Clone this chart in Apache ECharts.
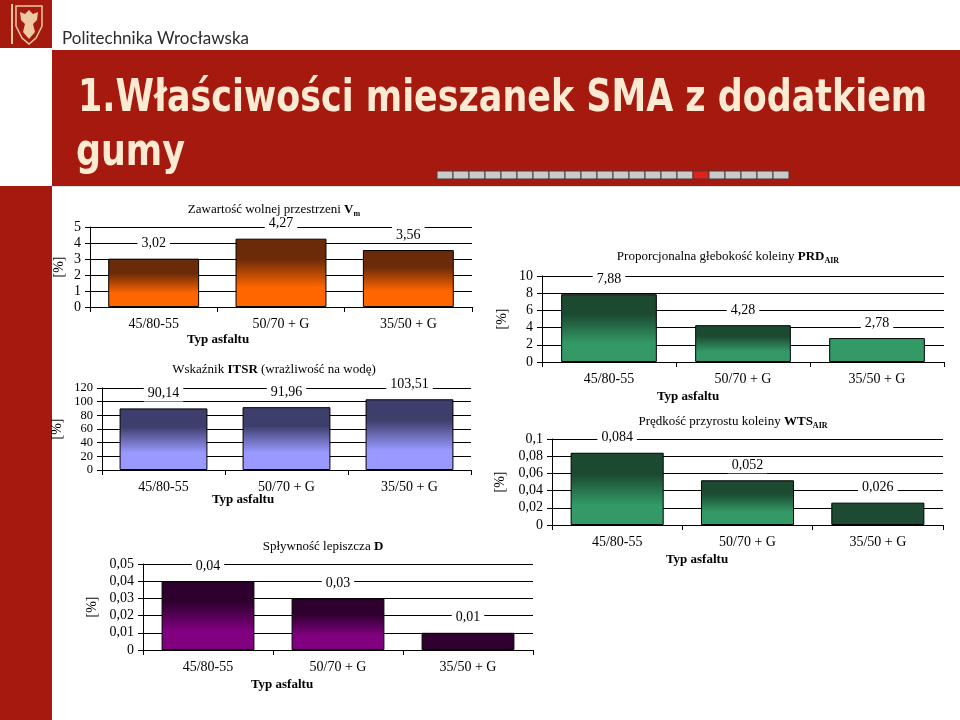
<!DOCTYPE html>
<html><head><meta charset="utf-8">
<script src="https://cdn.jsdelivr.net/npm/echarts@6/dist/echarts.min.js"></script>
<style>html,body{margin:0;padding:0;background:#fff}#c{width:960px;height:720px}</style>
</head><body><div id="c"></div>
<script>
// ---- data ----
const categories = ['45/80-55', '50/70 + G', '35/50 + G'];
const vmValues = [3.02, 4.27, 3.56];
const itsrValues = [90.14, 91.96, 103.51];
const drainValues = [0.04, 0.03, 0.01];
const prdValues = [7.88, 4.28, 2.78];
const wtsValues = [0.084, 0.052, 0.026];
const vmTicks = [0, 5, 1];
const itsrTicks = [0, 120, 20];
const drainTicks = [0, 0.05, 0.01];
const prdTicks = [0, 10, 2];
const wtsTicks = [0, 0.1, 0.02];
const slideTitleLines = ['1.Właściwości mieszanek SMA z dodatkiem', 'gumy'];
const schoolName = 'Politechnika Wrocławska';
const axisTitle = 'Typ asfaltu';
const yAxisTitle = '[%]';
const chartTitles = [
  'Zawartość wolnej przestrzeni {b|V}{s|m}',
  'Wskaźnik {b|ITSR} (wrażliwość na wodę)',
  'Spływność lepiszcza {b|D}',
  'Proporcjonalna głebokość koleiny {b|PRD}{s|AIR}',
  'Prędkość przyrostu koleiny {b|WTS}{s|AIR}'
];

// ---- layout / style ----
const SERIF = '"Liberation Serif","Times New Roman",serif';
const RED = '#A5190F';
function grad(top, bottom) {
  return new echarts.graphic.LinearGradient(0, 0, 0, 1, [
    {offset: 0, color: top}, {offset: 0.3, color: top},
    {offset: 0.72, color: bottom}, {offset: 1, color: bottom}]);
}
const panels = [
  {values: vmValues, ticks: vmTicks, grid: {left: 90, top: 227, width: 382, height: 80}, nameGap: 24, yFont: 14,
   colors: [grad('#6B2A08', '#FF6600'), grad('#6B2A08', '#FF6600'), grad('#6B2A08', '#FF6600')],
   title: [274, 210], axisT: [218, 340]},
  {values: itsrValues, ticks: itsrTicks, grid: {left: 102, top: 388, width: 369, height: 82}, nameGap: 38, yFont: 12.5,
   colors: [grad('#3E3E6C', '#9999FF'), grad('#3E3E6C', '#9999FF'), grad('#3E3E6C', '#9999FF')],
   title: [274, 370], axisT: [243, 500]},
  {values: drainValues, ticks: drainTicks, grid: {left: 143, top: 564, width: 390, height: 86}, nameGap: 44, yFont: 14,
   colors: [grad('#2E002E', '#800080'), grad('#2E002E', '#800080'), '#300030'],
   title: [323, 547], axisT: [282, 685]},
  {values: prdValues, ticks: prdTicks, grid: {left: 542, top: 276, width: 402, height: 86}, nameGap: 33, yFont: 14,
   colors: [grad('#1B4A31', '#339966'), grad('#1B4A31', '#339966'), '#339966'],
   title: [728, 257], axisT: [688, 397]},
  {values: wtsValues, ticks: wtsTicks, grid: {left: 552, top: 439, width: 391, height: 86}, nameGap: 45, yFont: 14,
   colors: [grad('#1B4A31', '#339966'), grad('#1B4A31', '#339966'), '#1D4A32'],
   title: [733, 422], axisT: [697, 560]}
];
const fmt = v => String(+(+v).toFixed(4)).replace('.', ',');

const grids = [], xAxes = [], yAxes = [], series = [], titles = [];
panels.forEach((p, i) => {
  grids.push(Object.assign({outerBoundsMode: 'none', containLabel: false}, p.grid));
  xAxes.push({
    type: 'category', gridIndex: i, data: categories, boundaryGap: true,
    axisLine: {show: true, lineStyle: {color: '#000', width: 1}},
    axisTick: {show: true, length: 5, lineStyle: {color: '#000'}, alignWithLabel: false},
    axisLabel: {show: true, margin: 10, color: '#000', fontFamily: SERIF, fontSize: 14, interval: 0, hideOverlap: false},
    splitLine: {show: false}
  });
  yAxes.push({
    type: 'value', gridIndex: i, min: p.ticks[0], max: p.ticks[1], interval: p.ticks[2],
    name: yAxisTitle, nameLocation: 'middle', nameRotate: 90, nameGap: p.nameGap,
    nameTextStyle: {color: '#000', fontFamily: SERIF, fontSize: 14},
    axisLine: {show: true, lineStyle: {color: '#000', width: 1}},
    axisTick: {show: true, length: 5, lineStyle: {color: '#000'}},
    axisLabel: {show: true, margin: 9, color: '#000', fontFamily: SERIF, fontSize: p.yFont, lineHeight: 10,
      padding: 0, formatter: fmt, showMinLabel: true, showMaxLabel: true, hideOverlap: false},
    splitLine: {show: true, lineStyle: {color: '#000', width: 1}}
  });
  series.push({
    type: 'bar', xAxisIndex: i, yAxisIndex: i, barWidth: '71.4%',
    data: p.values.map((v, k) => ({value: v, itemStyle: {color: p.colors[k]}})),
    itemStyle: {borderColor: '#000', borderWidth: 1},
    label: {show: true, position: 'top', distance: 7, color: '#000', fontFamily: SERIF, fontSize: 14,
      backgroundColor: '#fff', padding: [1, 4], formatter: q => fmt(q.value)},
    emphasis: {disabled: true}, animation: false
  });
  titles.push({
    text: chartTitles[i], left: p.title[0], top: p.title[1] - 8, textAlign: 'center', padding: 0,
    textStyle: {color: '#000', fontFamily: SERIF, fontSize: 13, fontWeight: 'normal', lineHeight: 16,
      rich: {b: {fontFamily: SERIF, fontSize: 13, fontWeight: 'bold', lineHeight: 16},
             s: {fontFamily: SERIF, fontSize: 8, fontWeight: 'bold', lineHeight: 16, verticalAlign: 'bottom', padding: [0, 0, 0, 0]}}}
  });
  titles.push({
    text: axisTitle, left: p.axisT[0], top: p.axisT[1] - 8, textAlign: 'center', padding: 0,
    textStyle: {color: '#000', fontFamily: SERIF, fontSize: 13, fontWeight: 'bold', lineHeight: 16}
  });
});

// decorations
const TFONT = 'bold 38.8px "DejaVu Sans Condensed", "DejaVu Sans", sans-serif';
const graphics = [
  {type: 'rect', shape: {x: 0, y: 0, width: 52, height: 48}, style: {fill: RED}},
  {type: 'rect', shape: {x: 52, y: 50, width: 908, height: 136}, style: {fill: RED}},
  {type: 'rect', shape: {x: 0, y: 186, width: 52, height: 534}, style: {fill: RED}},
  {type: 'rect', shape: {x: 52, y: 186, width: 908, height: 1}, style: {fill: '#d9dfe6'}},
  {type: 'rect', shape: {x: 11, y: 4, width: 2, height: 40}, style: {fill: '#EFC9A4'}},
  {type: 'polygon', shape: {points: [[16, 6], [42, 6], [42, 26], [36, 38], [29, 44], [22, 38], [16, 26]]},
   style: {fill: 'none', stroke: '#EFC9A4', lineWidth: 1.5}},
  {type: 'polygon', shape: {points: [[29, 10], [33, 14], [38, 12], [37, 20], [33, 24], [35, 32], [29, 39], [23, 32], [25, 24], [21, 20], [20, 12], [25, 14]]},
   style: {fill: '#EFC9A4'}},
  {type: 'text', left: 62, top: 30, style: {text: schoolName, fill: '#2b2b2b', font: '17px Lato, "Open Sans", sans-serif'}},
  {type: 'text', x: 78, y: 77, scaleY: 1.15, style: {text: slideTitleLines[0], fill: '#FCEBD2', font: TFONT}},
  {type: 'text', x: 76, y: 131, scaleY: 1.15, style: {text: slideTitleLines[1], fill: '#FCEBD2', font: TFONT}}
];
for (let k = 0; k < 22; k++) {
  graphics.push({type: 'rect', shape: {x: 437 + k * 16, y: 171, width: 16, height: 8},
    style: {fill: k === 16 ? '#E3211B' : '#CACACA', stroke: '#4a3a3a', lineWidth: 1}});
}

const chart = echarts.init(document.getElementById('c'), null, {renderer: 'canvas'});
chart.setOption({
  backgroundColor: '#fff', animation: false,
  title: titles, grid: grids, xAxis: xAxes, yAxis: yAxes, series: series, graphic: graphics,
  tooltip: {show: false}
});
</script></body></html>
